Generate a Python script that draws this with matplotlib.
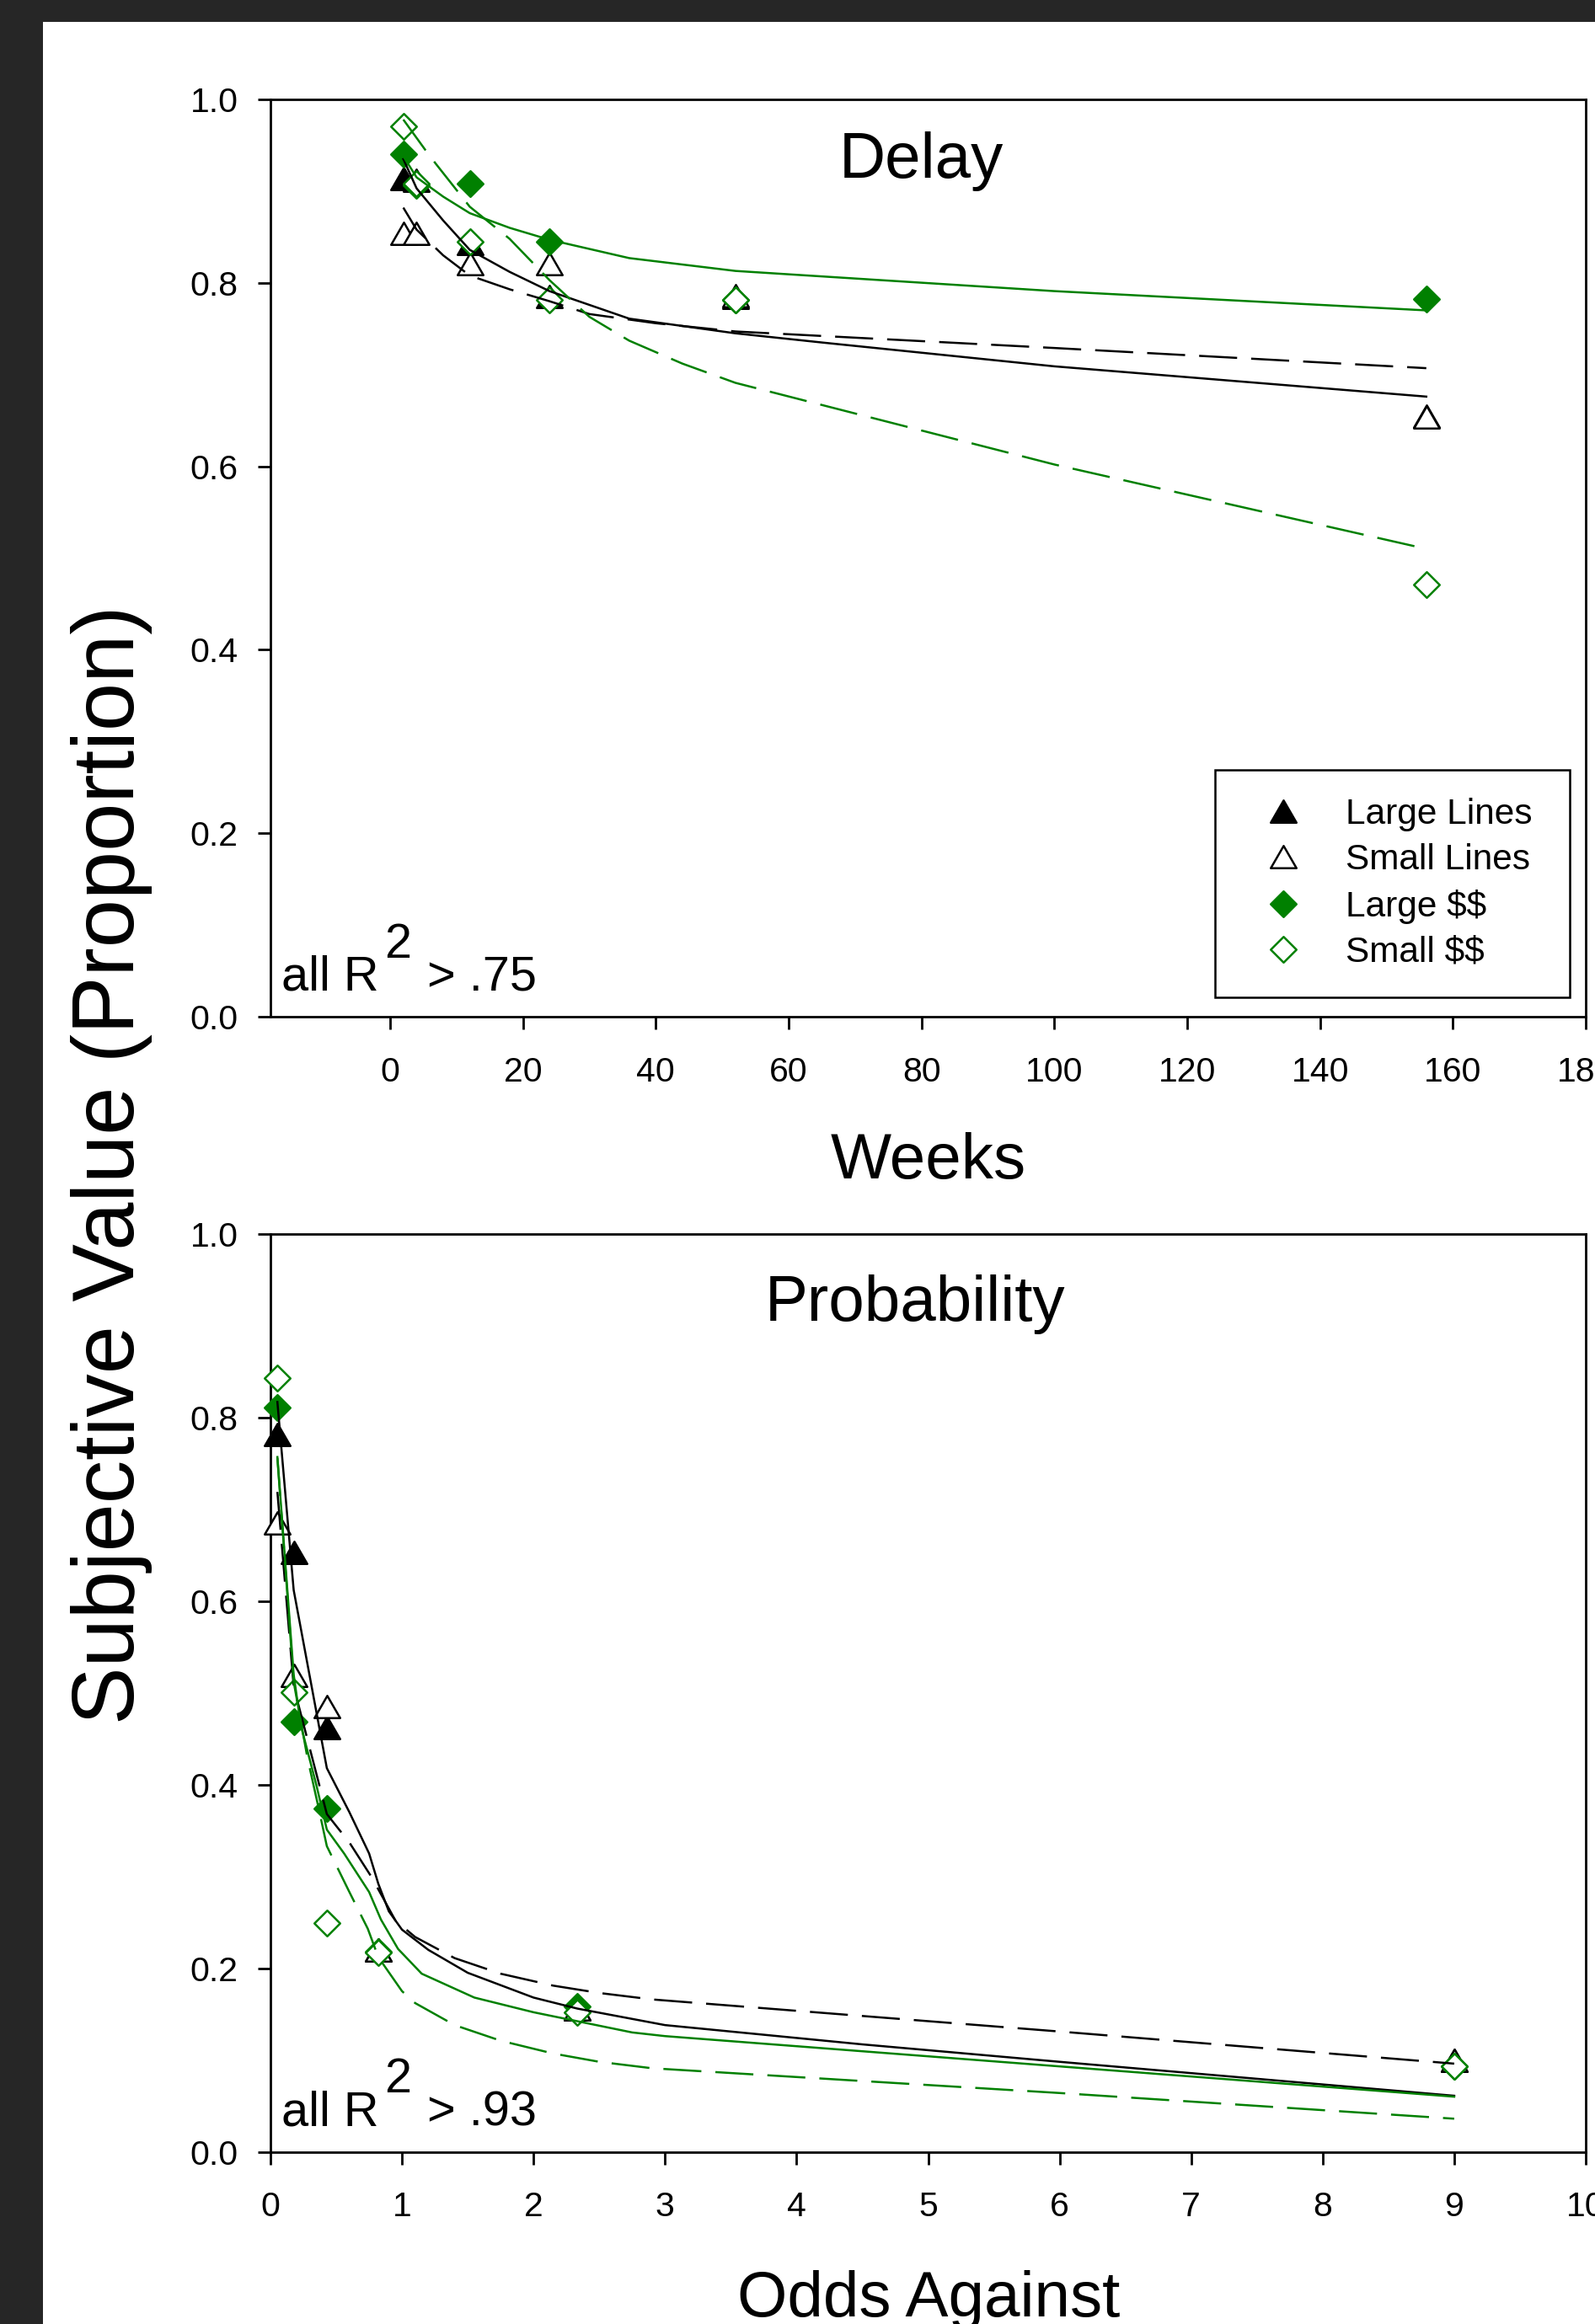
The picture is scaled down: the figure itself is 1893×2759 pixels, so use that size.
import matplotlib
matplotlib.use("Agg")
import matplotlib.pyplot as plt
from matplotlib.markers import MarkerStyle
from matplotlib.path import Path
from matplotlib.patches import Rectangle
from matplotlib.ticker import FormatStrFormatter

plt.rcParams['font.family'] = ['Liberation Sans', 'DejaVu Sans']
plt.rcParams['lines.scale_dashes'] = False
plt.rcParams['text.parse_math'] = False   # labels contain "$$"

W, H = 1893, 2759
GREEN = '#008000'

# ---- delay panel: data points ----
weeks = [2, 4, 12, 24, 52, 156]
delay_large_lines = [0.914, 0.912, 0.843, 0.785, 0.784, 0.655]
delay_small_lines = [0.854, 0.854, 0.821, 0.821, 0.786, 0.654]
delay_large_money = [0.940, 0.906, 0.908, 0.845, 0.781, 0.782]
delay_small_money = [0.971, 0.908, 0.845, 0.781, 0.781, 0.471]

# delay panel: fitted curves
fit_wk_large_lines = [2, 4, 8, 12, 18, 24, 36, 52, 65, 100, 156]
fit_dl_large_lines = [0.935, 0.903, 0.868, 0.836, 0.812, 0.791, 0.761, 0.745, 0.735, 0.709, 0.676]
fit_wk_small_lines = [2, 4, 8, 12, 18, 24, 30, 40, 52, 100, 156]
fit_dl_small_lines = [0.882, 0.858, 0.830, 0.808, 0.793, 0.780, 0.766, 0.756, 0.747, 0.729, 0.707]
fit_wk_large_money = [2, 4, 8, 12, 18, 24, 36, 52, 100, 156]
fit_dl_large_money = [0.938, 0.915, 0.894, 0.876, 0.860, 0.847, 0.827, 0.813, 0.791, 0.770]
fit_wk_small_money = [2, 6, 12, 18, 24, 30, 36, 44, 52, 100, 156]
fit_dl_small_money = [0.978, 0.938, 0.883, 0.848, 0.803, 0.763, 0.737, 0.712, 0.691, 0.602, 0.510]

# ---- probability panel: data points ----
odds = [0.0526, 0.1765, 0.4286, 0.8182, 2.3333, 9.0]
prob_large_lines = [0.782, 0.653, 0.462, 0.220, 0.156, 0.100]
prob_small_lines = [0.685, 0.519, 0.485, 0.220, 0.156, 0.100]
prob_large_money = [0.811, 0.469, 0.374, 0.218, 0.158, 0.093]
prob_small_money = [0.843, 0.501, 0.249, 0.217, 0.152, 0.093]

# probability panel: fitted curves
fit_od_large_lines = [0.0526, 0.1765, 0.4286, 0.6, 0.75, 0.82, 0.9, 1.0, 1.2, 1.5, 2.0, 2.3333, 3.0, 4.5, 6.0, 9.0]
fit_pr_large_lines = [0.817, 0.612, 0.418, 0.370, 0.325, 0.292, 0.262, 0.242, 0.220, 0.195, 0.168, 0.156, 0.138, 0.117, 0.098, 0.061]
fit_od_small_lines = [0.0526, 0.1765, 0.4286, 0.5, 0.6, 0.77, 0.95, 1.1, 1.4, 1.75, 2.15, 2.5, 2.9, 6.0, 9.0]
fit_pr_small_lines = [0.719, 0.507, 0.368, 0.355, 0.337, 0.299, 0.252, 0.234, 0.211, 0.194, 0.181, 0.173, 0.166, 0.131, 0.096]
fit_od_large_money = [0.0526, 0.1765, 0.23, 0.35, 0.4286, 0.56, 0.75, 0.84, 0.97, 1.15, 1.55, 2.0, 2.75, 3.0, 6.0, 9.0]
fit_pr_large_money = [0.757, 0.520, 0.465, 0.399, 0.351, 0.325, 0.283, 0.253, 0.221, 0.194, 0.168, 0.152, 0.130, 0.126, 0.093, 0.060]
fit_od_small_money = [0.0526, 0.1765, 0.28, 0.37, 0.4286, 0.6, 0.74, 0.82, 1.0, 1.1, 1.4, 1.75, 2.15, 2.5, 2.9, 6.0, 9.0]
fit_pr_small_money = [0.756, 0.512, 0.430, 0.372, 0.333, 0.283, 0.243, 0.212, 0.175, 0.162, 0.138, 0.121, 0.107, 0.098, 0.091, 0.064, 0.036]

labels = ['Large Lines', 'Small Lines', 'Large $$', 'Small $$']
yticks = [0.0, 0.2, 0.4, 0.6, 0.8, 1.0]

tri = MarkerStyle(Path([(-1, -0.866), (1, -0.866), (0, 0.866), (-1, -0.866)], closed=True), joinstyle='round')
dia = MarkerStyle(Path([(0, 1), (1, 0), (0, -1), (-1, 0), (0, 1)], closed=True), joinstyle='miter')

# marker, face, edge for each series
styles = [(tri, 'black', 'black'), (tri, 'white', 'black'), (dia, GREEN, GREEN), (dia, 'white', GREEN)]
dash = (0, (32.5, 12))
fit_styles = [('black', '-'), ('black', dash), (GREEN, '-'), (GREEN, dash)]

fig = plt.figure(figsize=(W / 100, H / 100), dpi=100, facecolor='#262626')
fig.add_artist(Rectangle((51 / W, 0), 1 - 51 / W, 1 - 26 / H, transform=fig.transFigure,
                         facecolor='white', edgecolor='none', zorder=-10))

ax1 = fig.add_axes([321 / W, 1 - 1207 / H, 1561 / W, 1089 / H])
ax2 = fig.add_axes([321 / W, 1 - 2554.5 / H, 1561 / W, 1089.5 / H])


def style_axes(ax, xlim, xticks):
    ax.set_xlim(*xlim)
    ax.set_ylim(0, 1)
    ax.set_xticks(xticks)
    ax.set_yticks(yticks)
    ax.yaxis.set_major_formatter(FormatStrFormatter('%.1f'))
    ax.tick_params(direction='out', length=10.8, width=2.0, labelsize=29.5, color='black')
    ax.tick_params(axis='x', pad=23)
    ax.tick_params(axis='y', pad=17)
    for s in ax.spines.values():
        s.set_linewidth(2.0)


def draw_panel(ax, xs, series, fits):
    handles = []
    for ys, (m, fc, ec), lab in zip(series, styles, labels):
        h, = ax.plot(xs, ys, linestyle='none', marker=m, markersize=22, markerfacecolor=fc,
                     markeredgecolor=ec, markeredgewidth=1.8, label=lab, zorder=3, clip_on=False)
        handles.append(h)
    for (fx, fy), (c, ls) in zip(fits, fit_styles):
        ax.plot(fx, fy, color=c, linestyle=ls, linewidth=1.8, zorder=4)
    return handles


def r_squared(ax, value):
    kw = dict(transform=ax.transAxes, fontsize=41.5, va='baseline', ha='left')
    ax.text(0.0085, 0.0287, 'all R', **kw)
    ax.text(0.0865, 0.0643, '2', **kw)
    ax.text(0.119, 0.0287, '> ' + value, **kw)


# ---- Delay panel ----
style_axes(ax1, (-18, 180), range(0, 181, 20))
handles = draw_panel(ax1, weeks,
                     [delay_large_lines, delay_small_lines, delay_large_money, delay_small_money],
                     [(fit_wk_large_lines, fit_dl_large_lines), (fit_wk_small_lines, fit_dl_small_lines),
                      (fit_wk_large_money, fit_dl_large_money), (fit_wk_small_money, fit_dl_small_money)])
ax1.text(0.4946, 0.9149, 'Delay', transform=ax1.transAxes, fontsize=55, ha='center', va='baseline')
r_squared(ax1, '.75')
ax1.set_xlabel('Weeks', fontsize=55)
ax1.xaxis.label.set_va('baseline')
ax1.xaxis.set_label_coords((1102 - 321) / 1561, -(1399 - 1207) / 1089)

leg = ax1.legend(handles=handles, loc='lower left', bbox_to_anchor=(0.7179, 0.0211, 0.2701, 0.25),
                 mode='expand', borderaxespad=0, fontsize=30.5, borderpad=0.78, handlelength=2.26,
                 handletextpad=0.62, labelspacing=0.34, fancybox=False, framealpha=1,
                 edgecolor='black', numpoints=1)
leg.get_frame().set_linewidth(1.8)

# ---- Probability panel ----
style_axes(ax2, (0, 10), range(0, 11))
draw_panel(ax2, odds,
           [prob_large_lines, prob_small_lines, prob_large_money, prob_small_money],
           [(fit_od_large_lines, fit_pr_large_lines), (fit_od_small_lines, fit_pr_small_lines),
            (fit_od_large_money, fit_pr_large_money), (fit_od_small_money, fit_pr_small_money)])
ax2.text(0.490, 0.9055, 'Probability', transform=ax2.transAxes, fontsize=55, ha='center', va='baseline')
r_squared(ax2, '.93')
ax2.set_xlabel('Odds Against', fontsize=55)
ax2.xaxis.label.set_va('baseline')
ax2.xaxis.set_label_coords((1102 - 321) / 1561, -(2750 - 2554.5) / 1089.5)

fig.text(132.5 / W, 1 - 1383 / H, 'Subjective Value (Proportion)', rotation=90,
         fontsize=74, ha='center', va='center')

fig.savefig('out.png', dpi=100, facecolor=fig.get_facecolor())
